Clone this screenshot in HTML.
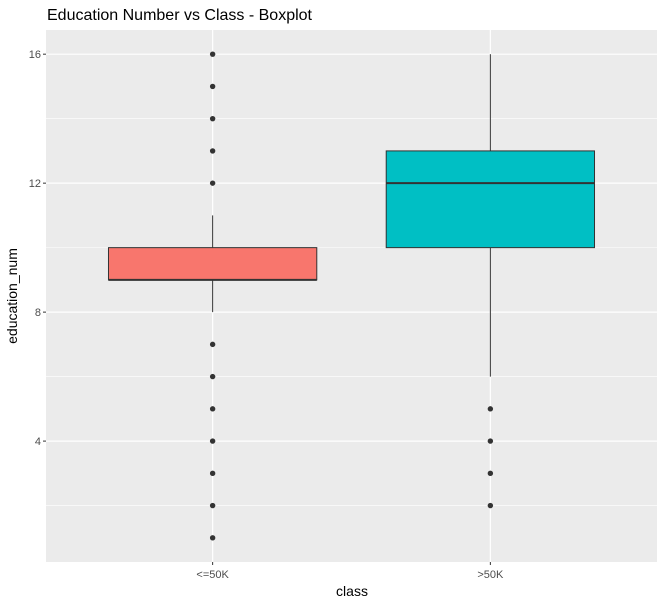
<!DOCTYPE html>
<html><head><meta charset="utf-8"><style>
body{margin:0;background:#fff;}
text{font-family:"Liberation Sans",Arial,sans-serif;}
</style></head><body>
<svg id="chart" width="664" height="606" xmlns="http://www.w3.org/2000/svg">
<text x="47" y="20" font-size="16" fill="#000">Education Number vs Class - Boxplot</text>
<rect x="46" y="30" width="611" height="532" fill="#ebebeb"/>
<g id="grid"></g><g id="marks"></g><g id="axes"></g>
<text x="352" y="596" font-size="14" text-anchor="middle" fill="#000">class</text>
<text transform="translate(17,296) rotate(-90)" font-size="14" text-anchor="middle" fill="#000">education_num</text>
</svg>
<script>
const categories=["<=50K",">50K"];
const fills=["#f8766d","#00bfc4"];
const lowerWhisker=[8,6];
const q1=[9,10];
const median=[9,12];
const q3=[10,13];
const upperWhisker=[11,16];
const outliers=[[16,15,14,13,12,7,6,5,4,3,2,1],[5,4,3,2]];
const yTicks=[4,8,12,16];
const yMinor=[2,6,10,14];
const NS="http://www.w3.org/2000/svg";
const L=46,R=657,T=30,B=562,ymin=0.25,ymax=16.75;
const unit=(R-L)/(categories.length+0.2);
function x(i){return L+(i+0.6)*unit;}
function y(v){return T+(ymax-v)/(ymax-ymin)*(B-T);}
function mk(p,tag,a){const e=document.createElementNS(NS,tag);for(const k in a)e.setAttribute(k,a[k]);p.appendChild(e);return e;}
const grid=document.getElementById('grid'),marks=document.getElementById('marks'),axes=document.getElementById('axes');
yMinor.forEach(v=>{const e=mk(grid,'line',{x1:L,x2:R,y1:y(v),y2:y(v),stroke:'#fff','stroke-width':0.6});

});
yTicks.forEach(v=>{const e=mk(grid,'line',{x1:L,x2:R,y1:y(v),y2:y(v),stroke:'#fff','stroke-width':1.2});


const t=mk(axes,'line',{x1:L-3,x2:L,y1:y(v),y2:y(v),stroke:'#333'});


const l=mk(axes,'text',{x:L-5,y:y(v)+4,'font-size':11,'text-anchor':'end',fill:'#4d4d4d'});l.textContent=v;

});
categories.forEach((c,i)=>{const cx=x(i);
const g=mk(grid,'line',{x1:cx,x2:cx,y1:T,y2:B,stroke:'#fff','stroke-width':1.2});


const hw=0.375*unit;
const w1=mk(marks,'line',{x1:cx,x2:cx,y1:y(upperWhisker[i]),y2:y(q3[i]),stroke:'#333'});


const w2=mk(marks,'line',{x1:cx,x2:cx,y1:y(q1[i]),y2:y(lowerWhisker[i]),stroke:'#333'});


const b=mk(marks,'rect',{x:cx-hw,y:y(q3[i]),width:2*hw,height:y(q1[i])-y(q3[i]),fill:fills[i],stroke:'#333','stroke-width':1});


const m=mk(marks,'line',{x1:cx-hw,x2:cx+hw,y1:y(median[i]),y2:y(median[i]),stroke:'#333','stroke-width':2});


outliers[i].forEach(v=>{const o=mk(marks,'circle',{cx:cx,cy:y(v),r:2.7,fill:'#333'});

});
const t=mk(axes,'line',{x1:cx,x2:cx,y1:B,y2:B+3,stroke:'#333'});


const l=mk(axes,'text',{x:cx,y:B+16,'font-size':11,'text-anchor':'middle',fill:'#4d4d4d'});l.textContent=c;

});
</script>
</body></html>
